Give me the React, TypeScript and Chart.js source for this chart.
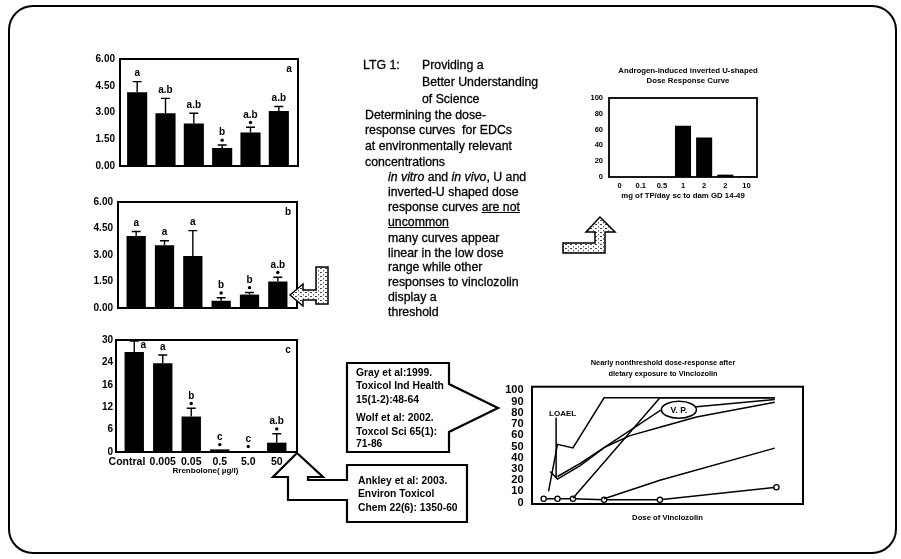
import React, { useEffect, useRef } from "react";
import { Chart, registerables } from "chart.js";

Chart.register(...registerables);

const FONT = "'Liberation Sans', Arial, Helvetica, sans-serif";

// ---------------- data ----------------
const doseLabels = ["Contral", "0.005", "0.05", "0.5", "5.0", "50"];
const doseAxisTitle = "Rrenbolone( µg/l)";

const panelAMeans = [4.14, 2.96, 2.38, 1.01, 1.88, 3.09];
const panelAUpper = [4.73, 3.79, 2.96, 1.18, 2.17, 3.34];
const panelALetters = ["a", "a.b", "a.b", "b", "a.b", "a.b"];
const panelAStars = [0, 0, 0, 1, 1, 0];

const panelBMeans = [4.07, 3.55, 2.95, 0.41, 0.76, 1.5];
const panelBUpper = [4.33, 3.81, 4.38, 0.58, 0.88, 1.74];
const panelBLetters = ["a", "a", "a", "b", "b", "a.b"];
const panelBStars = [0, 0, 0, 1, 1, 1];

const panelCMeans = [26.8, 23.8, 9.5, 0.7, 0.2, 2.5];
const panelCUpper = [29.7, 26.0, 11.7, 0.7, 0.2, 4.9];
const panelCLetters = ["a", "a", "b", "c", "c", "a.b"];
const panelCStars = [0, 0, 1, 1, 1, 1];

const panelABTicks = [0, 1.5, 3, 4.5, 6];
const panelABTickLabels = ["0.00", "1.50", "3.00", "4.50", "6.00"];
const panelCTicks = [0, 6, 12, 18, 24, 30];
const panelCTickLabels = ["0", "6", "12", "16", "24", "30"];

const tpDoses = ["0", "0.1", "0.5", "1", "2", "2", "10"];
const tpResponse = [0, 0, 0, 65, 50, 3, 1];
const tpTicks = [0, 20, 40, 60, 80, 100];
const tpTickLabels = ["0", "20", "40", "60", "80", "100"];
const tpTitle = ["Androgen-induced inverted U-shaped", "Dose Response Curve"];
const tpAxisTitle = "mg of TP/day sc to dam GD 14-49";

const vinTitle = ["Nearly nonthreshold dose-response after", "dietary exposure to Vinclozolin"];
const vinAxisTitle = "Dose of Vinclozolin";
const vinTicks = [0, 10, 20, 30, 40, 50, 60, 70, 80, 90, 100];
const vinTickLabels = ["0", "10", "20", "30", "40", "50", "60", "70", "80", "90", "100"];
const curveAX = [6.1, 9.4, 15.1, 26.6, 89.6];
const curveAY = [10, 52, 48.7, 93.4, 93.4];
const curveBX = [15.1, 47.2, 89.6];
const curveBY = [3.9, 93.4, 93.4];
const curveCX = [6.7, 9.4, 17.8, 27, 36.2, 48.5, 60.7, 89.6];
const curveCY = [27.8, 21, 33, 49.6, 59.7, 68, 76.4, 89.5];
const curveDX = [9.4, 17.8, 27, 47.2, 60.7, 89.6];
const curveDY = [23.3, 35, 49.6, 82, 85.4, 92];
const curveEX = [26.6, 47.2, 89.6];
const curveEY = [3.5, 20, 48.6];
const curveFX = [4.3, 9.4, 15.1, 26.6, 47.2, 90.2];
const curveFY = [3.5, 3.5, 3.5, 2.5, 2.5, 13.7];
const loaelDose = 8.9;
const loaelTop = 75.6;
const loaelBottom = 22;
const vpDose = 54.2;
const vpResponse = 82.8;

// ---------------- plugins ----------------
type PanelSpec = {
  means: number[];
  upper: number[];
  letters: string[];
  stars: number[];
  panel: string;
  extL: number;
  extR: number;
};

function barExtras(spec: PanelSpec) {
  return {
    id: "barExtras",
    afterDatasetsDraw(chart: any) {
      const { ctx, chartArea: a, scales } = chart;
      const xs = scales.x;
      const ys = scales.y;
      ctx.save();
      ctx.strokeStyle = "#000";
      ctx.fillStyle = "#000";
      ctx.lineWidth = 1.4;
      ctx.font = `bold 10px ${FONT}`;
      ctx.textAlign = "center";
      ctx.textBaseline = "middle";
      spec.means.forEach((m, i) => {
        const cx = xs.getPixelForValue(i);
        const yTop = ys.getPixelForValue(m);
        const yErr = ys.getPixelForValue(spec.upper[i]);
        if (yErr < yTop - 0.5) {
          ctx.beginPath();
          ctx.moveTo(cx, yTop);
          ctx.lineTo(cx, yErr);
          ctx.moveTo(cx - 4.5, yErr);
          ctx.lineTo(cx + 4.5, yErr);
          ctx.stroke();
        }
        const base = Math.min(yTop, yErr);
        let ly = base - 8;
        if (spec.stars[i]) {
          ctx.beginPath();
          ctx.arc(cx, base - 4.8, 1.7, 0, Math.PI * 2);
          ctx.fill();
          ly = base - 12.5;
        }
        if (ly < a.top + 5) {
          ctx.fillText(spec.letters[i], cx + 9, yErr + 4.5);
        } else {
          ctx.fillText(spec.letters[i], cx, ly);
        }
      });
      ctx.fillText(spec.panel, a.right + spec.extR - 9, a.top + 10.5);
      ctx.lineWidth = 2;
      ctx.strokeRect(a.left - spec.extL, a.top, a.right + spec.extR - (a.left - spec.extL), a.bottom - a.top);
      ctx.restore();
    },
  };
}

const frameBox = {
  id: "frameBox",
  afterDatasetsDraw(chart: any) {
    const { ctx, chartArea: a } = chart;
    ctx.save();
    ctx.strokeStyle = "#000";
    ctx.lineWidth = 1.8;
    ctx.strokeRect(a.left, a.top, a.right - a.left, a.bottom - a.top);
    ctx.restore();
  },
};

const vinExtras = {
  id: "vinExtras",
  afterDatasetsDraw(chart: any) {
    const { ctx, chartArea: a, scales } = chart;
    const xs = scales.x;
    const ys = scales.y;
    ctx.save();
    ctx.strokeStyle = "#000";
    ctx.fillStyle = "#000";
    ctx.lineWidth = 1.5;
    const lx = xs.getPixelForValue(loaelDose);
    ctx.beginPath();
    ctx.moveTo(lx, ys.getPixelForValue(loaelTop));
    ctx.lineTo(lx, ys.getPixelForValue(loaelBottom));
    ctx.stroke();
    ctx.font = `bold 8px ${FONT}`;
    ctx.textAlign = "center";
    ctx.textBaseline = "middle";
    ctx.fillText("LOAEL", lx + 6.5, ys.getPixelForValue(loaelTop) - 4.5);
    const vx = xs.getPixelForValue(vpDose);
    const vy = ys.getPixelForValue(vpResponse);
    ctx.beginPath();
    ctx.ellipse(vx, vy, 17.5, 8.5, 0, 0, Math.PI * 2);
    ctx.fillStyle = "#fff";
    ctx.fill();
    ctx.stroke();
    ctx.fillStyle = "#000";
    ctx.font = `bold 8.5px ${FONT}`;
    ctx.fillText("V. P.", vx, vy + 0.5);
    ctx.lineWidth = 2;
    ctx.strokeRect(a.left, a.top, a.right - a.left, a.bottom - a.top);
    ctx.restore();
  },
};

// ---------------- configs ----------------
type PanelLayout = {
  max: number;
  ticks: number[];
  tickLabels: string[];
  yWidth: number;
  tickPad: number;
  pad: { top: number; right: number; bottom: number; left: number };
  barPct: number;
  showX: boolean;
};

function panelConfig(spec: PanelSpec, lay: PanelLayout): any {
  return {
    type: "bar",
    data: {
      labels: doseLabels,
      datasets: [
        {
          data: spec.means,
          backgroundColor: "#000",
          borderWidth: 0,
          barPercentage: lay.barPct,
          categoryPercentage: 1,
        },
      ],
    },
    options: {
      responsive: false,
      maintainAspectRatio: false,
      animation: false,
      layout: { padding: lay.pad },
      plugins: { legend: { display: false }, tooltip: { enabled: false }, title: { display: false } },
      scales: {
        x: lay.showX
          ? {
              grid: { display: false, drawTicks: false },
              border: { display: false },
              ticks: {
                color: "#000",
                font: { family: FONT, size: 10.5, weight: "bold" },
                padding: 4,
                autoSkip: false,
                maxRotation: 0,
                minRotation: 0,
                callback: (_v: any, i: number) => (i === 0 ? doseLabels[i] + "     " : doseLabels[i]),
              },
              title: {
                display: true,
                text: doseAxisTitle,
                color: "#000",
                font: { family: FONT, size: 8, weight: "bold" },
                padding: { top: 0, bottom: 2.5 },
              },
              afterFit: (s: any) => {
                s.height = 26;
              },
            }
          : { display: false },
        y: {
          min: 0,
          max: lay.max,
          grid: { display: false, drawTicks: false },
          border: { display: false },
          afterBuildTicks: (s: any) => {
            s.ticks = lay.ticks.map((v) => ({ value: v }));
          },
          ticks: {
            color: "#000",
            font: { family: FONT, size: 10, weight: "bold" },
            padding: lay.tickPad,
            autoSkip: false,
            callback: (_v: any, i: number) => lay.tickLabels[i],
          },
          afterFit: (s: any) => {
            s.width = lay.yWidth;
          },
        },
      },
    },
    plugins: [barExtras(spec)],
  };
}

const buildA = () =>
  panelConfig(
    { means: panelAMeans, upper: panelAUpper, letters: panelALetters, stars: panelAStars, panel: "a", extL: 3, extR: 5 },
    { max: 6, ticks: panelABTicks, tickLabels: panelABTickLabels, yWidth: 60, tickPad: 8, pad: { top: 10, right: 10, bottom: 10, left: 0 }, barPct: 0.71, showX: false }
  );
const buildB = () =>
  panelConfig(
    { means: panelBMeans, upper: panelBUpper, letters: panelBLetters, stars: panelBStars, panel: "b", extL: 4, extR: 5 },
    { max: 6, ticks: panelABTicks, tickLabels: panelABTickLabels, yWidth: 60, tickPad: 9, pad: { top: 10, right: 10, bottom: 10, left: 0 }, barPct: 0.68, showX: false }
  );
const buildC = () =>
  panelConfig(
    { means: panelCMeans, upper: panelCUpper, letters: panelCLetters, stars: panelCStars, panel: "c", extL: 4, extR: 6 },
    { max: 30, ticks: panelCTicks, tickLabels: panelCTickLabels, yWidth: 60, tickPad: 7, pad: { top: 10, right: 14, bottom: 2, left: 0 }, barPct: 0.68, showX: true }
  );

// invisible right-hand spacer axis (moves the centred title to match the original)
function spacer(width: number): any {
  return {
    type: "linear",
    position: "right",
    display: true,
    grid: { display: false, drawTicks: false },
    border: { display: false },
    ticks: { display: false },
    afterFit: (s: any) => {
      s.width = width;
    },
  };
}

const buildTP = (): any => ({
  type: "bar",
  data: {
    labels: tpDoses,
    datasets: [{ data: tpResponse, backgroundColor: "#000", borderWidth: 0, barPercentage: 0.76, categoryPercentage: 1 }],
  },
  options: {
    responsive: false,
    maintainAspectRatio: false,
    animation: false,
    layout: { padding: { left: 0, right: 0, top: 0, bottom: 4 } },
    plugins: {
      legend: { display: false },
      tooltip: { enabled: false },
      title: {
        display: true,
        text: tpTitle,
        color: "#000",
        font: { family: FONT, size: 7.8, weight: "bold", lineHeight: 1.25 },
        padding: { top: 7.8, bottom: 12.7 },
      },
    },
    scales: {
      x: {
        grid: { display: false, drawTicks: false },
        border: { display: false },
        ticks: { color: "#000", font: { family: FONT, size: 7.5, weight: "bold" }, padding: 4.5, autoSkip: false, maxRotation: 0 },
        title: {
          display: true,
          text: tpAxisTitle,
          color: "#000",
          font: { family: FONT, size: 7.8, weight: "bold" },
          padding: { top: 0, bottom: 0.6 },
        },
        afterFit: (s: any) => {
          s.height = 24;
        },
      },
      y: {
        min: 0,
        max: 100,
        grid: { display: false, drawTicks: false },
        border: { display: false },
        afterBuildTicks: (s: any) => {
          s.ticks = tpTicks.map((v) => ({ value: v }));
        },
        ticks: {
          color: "#000",
          font: { family: FONT, size: 7.5, weight: "bold" },
          padding: 6,
          autoSkip: false,
          callback: (_v: any, i: number) => tpTickLabels[i],
        },
        afterFit: (s: any) => {
          s.width = 30;
        },
      },
      y2: spacer(40),
    },
  },
  plugins: [frameBox],
});

function curve(xs: number[], ys: number[], points = false) {
  return {
    data: xs.map((x, i) => ({ x, y: ys[i] })),
    borderColor: "#000",
    borderWidth: 1.5,
    pointRadius: points ? 2.6 : 0,
    pointBackgroundColor: "#fff",
    pointBorderColor: "#000",
    pointBorderWidth: 1.3,
    tension: 0,
    fill: false,
  };
}

const buildVin = (): any => ({
  type: "line",
  data: {
    datasets: [
      curve(curveAX, curveAY),
      curve(curveBX, curveBY),
      curve(curveCX, curveCY),
      curve(curveDX, curveDY),
      curve(curveEX, curveEY),
      curve(curveFX, curveFY, true),
    ],
  },
  options: {
    responsive: false,
    maintainAspectRatio: false,
    animation: false,
    layout: { padding: { left: 0, right: 0, top: 0, bottom: 4 } },
    plugins: {
      legend: { display: false },
      tooltip: { enabled: false },
      title: {
        display: true,
        text: vinTitle,
        color: "#000",
        font: { family: FONT, size: 7.4, weight: "bold", lineHeight: 1.4 },
        padding: { top: 8, bottom: 8 },
      },
    },
    scales: {
      x: {
        type: "linear",
        min: 0,
        max: 100,
        grid: { display: false, drawTicks: false },
        border: { display: false },
        ticks: { display: false },
        title: {
          display: true,
          text: vinAxisTitle,
          color: "#000",
          font: { family: FONT, size: 7.7, weight: "bold" },
          padding: { top: 0, bottom: 3 },
        },
        afterFit: (s: any) => {
          s.height = 22;
        },
      },
      y: {
        min: -1.2,
        max: 103.3,
        grid: { display: false, drawTicks: false },
        border: { display: false },
        afterBuildTicks: (s: any) => {
          s.ticks = vinTicks.map((v) => ({ value: v }));
        },
        ticks: {
          color: "#000",
          font: { family: FONT, size: 11, weight: "bold", lineHeight: 1 },
          padding: 8.5,
          autoSkip: false,
          callback: (_v: any, i: number) => vinTickLabels[i],
        },
        afterFit: (s: any) => {
          s.width = 40;
        },
      },
      y2: spacer(31),
    },
  },
  plugins: [vinExtras],
});

// ---------------- components ----------------
function ChartCanvas(props: { left: number; top: number; width: number; height: number; build: () => any }) {
  const { left, top, width, height, build } = props;
  const ref = useRef<HTMLCanvasElement | null>(null);
  useEffect(() => {
    if (!ref.current) return;
    const chart = new Chart(ref.current, build());
    return () => chart.destroy();
  }, [build]);
  return (
    <canvas
      ref={ref}
      width={width}
      height={height}
      style={{ position: "absolute", left, top, width, height, display: "block" }}
    />
  );
}

function T(props: { x: number; y: number; size?: number; bold?: boolean; children: any }) {
  const { x, y, size = 12.3, bold = false, children } = props;
  const lh = Math.round(size * 1.3);
  return (
    <div
      style={{
        position: "absolute",
        left: x,
        top: y - lh / 2,
        lineHeight: `${lh}px`,
        fontSize: size,
        fontWeight: bold ? "bold" : "normal",
        whiteSpace: "pre",
        color: "#000",
        WebkitTextStroke: bold ? "0" : "0.3px #000",
      }}
    >
      {children}
    </div>
  );
}

export default function App() {
  const u = { textDecoration: "underline" };
  return (
    <div
      style={{
        position: "absolute",
        left: 0,
        top: 0,
        width: 901,
        height: 559,
        background: "#fff",
        overflow: "hidden",
        fontFamily: FONT,
      }}
    >
      <ChartCanvas left={63} top={45} width={240} height={135} build={buildA} />
      <ChartCanvas left={62} top={187} width={240} height={136} build={buildB} />
      <ChartCanvas left={60} top={327} width={245} height={153} build={buildC} />
      <ChartCanvas left={579} top={58} width={218} height={147} build={buildTP} />
      <ChartCanvas left={492} top={350} width={342} height={180} build={buildVin} />

      <svg width={901} height={559} style={{ position: "absolute", left: 0, top: 0 }}>
        <defs>
          <pattern id="speck" width="5" height="4" patternUnits="userSpaceOnUse">
            <rect width="5" height="4" fill="#fff" />
            <rect x="0" y="0" width="2" height="1" fill="#444" />
            <rect x="3" y="2" width="1" height="1.5" fill="#666" />
          </pattern>
        </defs>
        <rect x={9} y={6} width={887} height={547} rx={24} ry={24} fill="none" stroke="#000" strokeWidth={2} />
        <polygon
          points="347,363 449,363 449,384 498,408 449,432 449,452 347,452"
          fill="#fff"
          stroke="#000"
          strokeWidth={2.2}
        />
        <polygon
          points="297,453 323,477 308,477 308,480 347,480 347,465 467,465 467,522 347,522 347,500 288,500 288,477 273,477"
          fill="#fff"
          stroke="#000"
          strokeWidth={2.2}
        />
        <polygon
          points="600,217 615,232 605,232 605,253 563,253 563,243 595,243 595,232 586,232"
          fill="url(#speck)"
          stroke="#000"
          strokeWidth={1.5}
        />
        <polygon
          points="290,295 303,284 303,290 316,290 316,267 328,267 328,304 316,304 316,300 303,300 303,306"
          fill="url(#speck)"
          stroke="#000"
          strokeWidth={1.5}
        />
      </svg>

      <T x={363} y={65}>LTG 1:</T>
      <T x={422} y={65}>Providing a</T>
      <T x={422} y={82}>Better Understanding</T>
      <T x={422} y={99}>of Science</T>
      <T x={365} y={115}>Determining the dose-</T>
      <T x={365} y={130}>{"response curves  for EDCs"}</T>
      <T x={365} y={146}>at environmentally relevant</T>
      <T x={365} y={162}>concentrations</T>
      <T x={388} y={177}>
        <i>in vitro</i> and <i>in vivo</i>, U and
      </T>
      <T x={388} y={192}>inverted-U shaped dose</T>
      <T x={388} y={207}>
        response curves <span style={u}>are not</span>
      </T>
      <T x={388} y={222}>
        <span style={u}>uncommon</span>
      </T>
      <T x={388} y={238}>many curves appear</T>
      <T x={388} y={253}>linear in the low dose</T>
      <T x={388} y={267}>range while other</T>
      <T x={388} y={282}>responses to vinclozolin</T>
      <T x={388} y={297}>display a</T>
      <T x={388} y={312}>threshold</T>

      <T x={356} y={372} size={10.3} bold>Gray et al:1999.</T>
      <T x={356} y={385} size={10.3} bold>Toxicol Ind Health</T>
      <T x={356} y={399} size={10.3} bold>15(1-2):48-64</T>
      <T x={356} y={417} size={10.3} bold>Wolf et al: 2002.</T>
      <T x={356} y={431} size={10.3} bold>Toxcol Sci 65(1):</T>
      <T x={356} y={443} size={10.3} bold>71-86</T>

      <T x={358} y={480} size={10.3} bold>Ankley et al: 2003.</T>
      <T x={358} y={493} size={10.3} bold>Environ Toxicol</T>
      <T x={358} y={507} size={10.3} bold>Chem 22(6): 1350-60</T>
    </div>
  );
}
